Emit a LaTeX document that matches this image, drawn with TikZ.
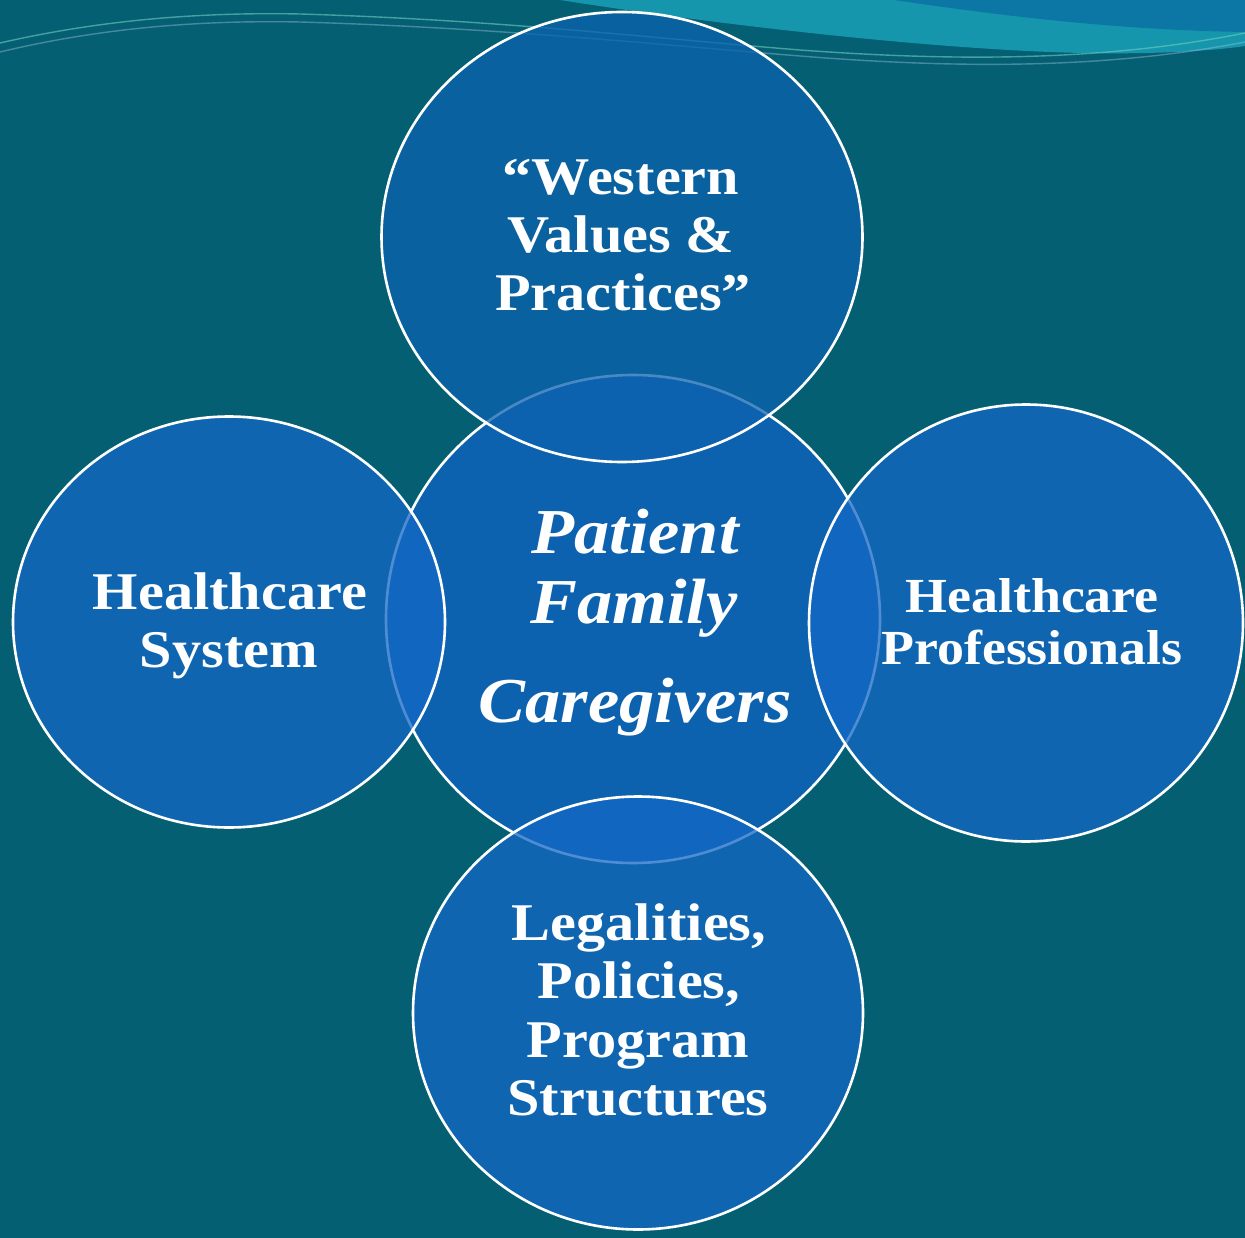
\documentclass[tikz,border=0pt]{standalone}
\usepackage{fontspec}
\setmainfont{Liberation Serif}[FakeStretch=1.1]
\usetikzlibrary{shapes.geometric}
\definecolor{bg}{RGB}{5,95,115}
\definecolor{wavelight}{RGB}{22,150,172}
\definecolor{wavedark}{RGB}{12,118,165}
\definecolor{waveline}{RGB}{110,205,190}
\definecolor{waveline2}{RGB}{150,190,210}
\definecolor{circA}{RGB}{12,98,175}
\definecolor{circB}{RGB}{20,104,198}
\tikzset{
  bubble/.style={ellipse, draw=white, line width=2.6pt, inner sep=0pt, fill opacity=0.75},
  lbl/.style={text=white, anchor=base, inner sep=0pt, font=\bfseries\fontsize{53}{58}\selectfont},
  lblsmall/.style={lbl, font=\bfseries\fontsize{49}{52}\selectfont},
  lblcenter/.style={lbl, font=\bfseries\itshape\fontsize{64}{68}\selectfont},
}
\begin{document}
\begin{tikzpicture}[x=1pt,y=-1pt]
\useasboundingbox (0,0) rectangle (1245,1238);
\begin{scope}
\clip (0,0) rectangle (1245,1238);
\fill[bg] (0,0) rectangle (1245,1238);
% top wave decoration
\fill[wavelight] (560,0) .. controls (700,22) and (900,46) .. (1050,52) .. controls (1150,56) and (1220,50) .. (1245,46) -- (1245,0) -- cycle;
\fill[wavedark] (894,0) .. controls (990,14) and (1110,30) .. (1245,32) -- (1245,0) -- cycle;
\draw[waveline, line width=1.4pt, opacity=0.6] (0,43) .. controls (100,20) and (200,12) .. (300,14) .. controls (500,20) and (650,38) .. (800,50) .. controls (950,61) and (1100,62) .. (1245,33);
\draw[waveline2, line width=1.4pt, opacity=0.45] (0,52) .. controls (100,28) and (200,20) .. (300,22) .. controls (500,28) and (650,44) .. (800,56) .. controls (950,68) and (1100,70) .. (1245,42);
% circles
\node[bubble, fill=circA, fill opacity=1, minimum width=494pt, minimum height=488pt] (center) at (633,619) {};
\node[bubble, fill=circA, minimum width=481pt, minimum height=450pt] (top) at (622,237) {};
\node[bubble, fill=circB, minimum width=432pt, minimum height=411pt] (left) at (229,622) {};
\node[bubble, fill=circB, minimum width=434pt, minimum height=437pt] (right) at (1026,623) {};
\node[bubble, fill=circB, minimum width=450pt, minimum height=433pt] (bottom) at (638,1013) {};
\end{scope}
% labels
\node[lbl] (t1) at (621,195) {“Western};
\node[lbl] (t2) at (621,253) {Values \&};
\node[lbl] (t3) at (623,311) {Practices”};
\node[lbl] (l1) at (230,609) {Healthcare};
\node[lbl] (l2) at (229,667) {System};
\node[lblsmall] (r1) at (1032,612) {Healthcare};
\node[lblsmall] (r2) at (1032,664) {Professionals};
\node[lbl] (b1) at (639,940) {Legalities,};
\node[lbl] (b2) at (639,998) {Policies,};
\node[lbl] (b3) at (638,1057) {Program};
\node[lbl] (b4) at (638,1115) {Structures};
\node[lblcenter] (c1) at (635,553) {Patient};
\node[lblcenter] (c2) at (634,623) {Family};
\node[lblcenter] (c3) at (635,722) {Caregivers};
\end{tikzpicture}
\end{document}
